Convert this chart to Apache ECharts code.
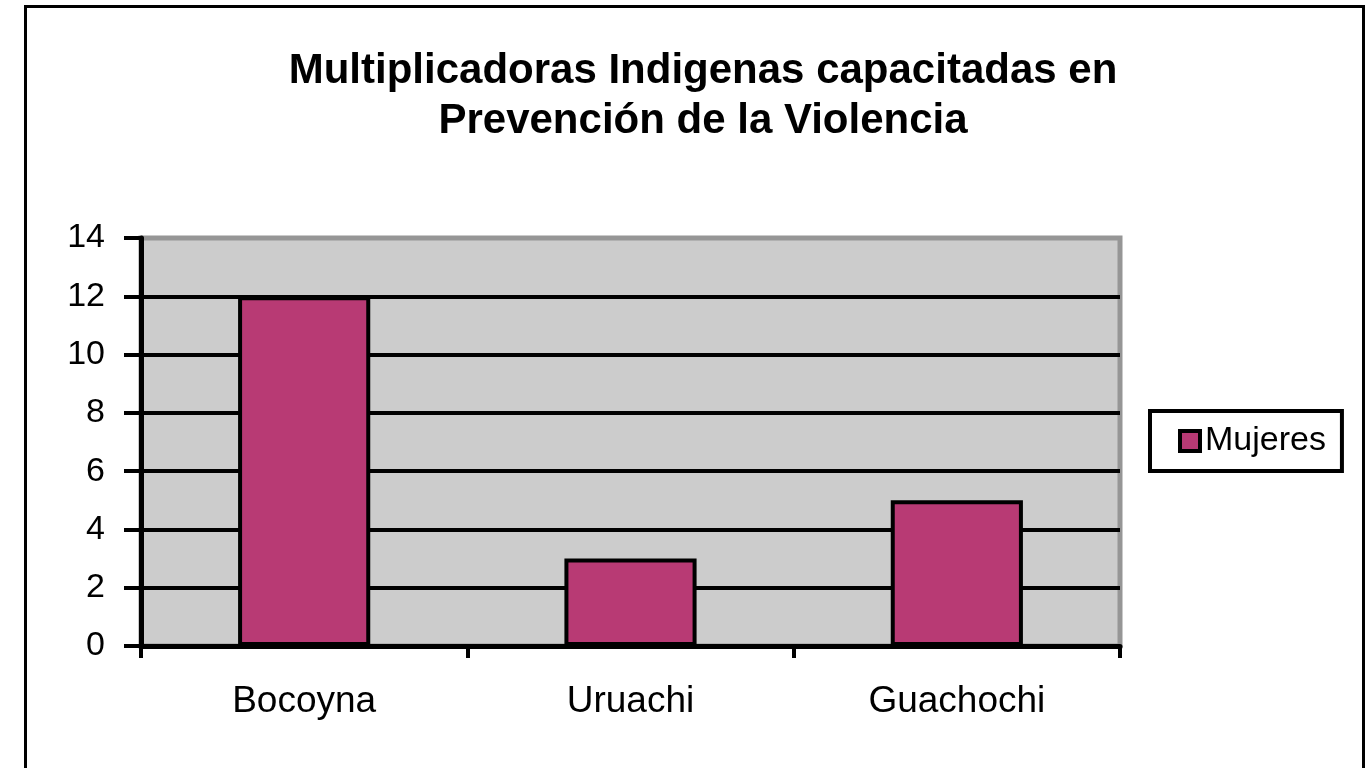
<!DOCTYPE html>
<html><head><meta charset="utf-8">
<script src="https://cdn.jsdelivr.net/npm/echarts@6/dist/echarts.min.js"></script>
<style>html,body{margin:0;padding:0;background:#fff}#c{width:1371px;height:768px}</style>
</head><body><div id="c"></div>
<script>
const categories = ['Bocoyna', 'Uruachi', 'Guachochi'];
const mujeres = [12, 3, 5];
const seriesName = 'Mujeres';
const titleText = 'Multiplicadoras Indigenas capacitadas en\nPrevención de la Violencia';

const chart = echarts.init(document.getElementById('c'));
const F = '"Liberation Sans", Arial, sans-serif';
chart.setOption({
  animation: false,
  backgroundColor: '#fff',
  graphic: [{
    type: 'rect', shape: {x: 25.5, y: 6.5, width: 1338, height: 820},
    style: {fill: 'none', stroke: '#000', lineWidth: 3}, z: 100
  }],
  title: {
    text: titleText, left: 698, top: 41, textAlign: 'center',
    textStyle: {fontFamily: F, fontSize: 42, fontWeight: 'bold', color: '#000', lineHeight: 50}
  },
  legend: {
    data: [seriesName], left: 1150, top: 411, orient: 'vertical',
    padding: [13, 16, 13, 28], borderColor: '#000', borderWidth: 4,
    itemWidth: 20, itemHeight: 20, itemGap: 0,
    icon: 'rect',
    itemStyle: {borderColor: '#000', borderWidth: 4},
    textStyle: {fontFamily: F, fontSize: 34, color: '#000'}
  },
  grid: {
    left: 141, top: 238, right: 251, bottom: 122,
    show: true, backgroundColor: '#cccccc', borderColor: '#969696', borderWidth: 5
  },
  xAxis: {
    type: 'category', data: categories,
    axisLine: {lineStyle: {color: '#000', width: 5}},
    axisTick: {show: true, length: 12, lineStyle: {color: '#000', width: 4}},
    axisLabel: {fontFamily: F, fontSize: 37, color: '#000', margin: 37}
  },
  yAxis: {
    type: 'value', min: 0, max: 14, interval: 2,
    axisLine: {show: true, lineStyle: {color: '#000', width: 5}},
    axisTick: {show: true, length: 17, lineStyle: {color: '#000', width: 4}},
    axisLabel: {fontFamily: F, fontSize: 34, color: '#000', margin: 36},
    splitLine: {lineStyle: {color: ['#000','#000','#000','#000','#000','#000','#000','#969696'], width: 4}}
  },
  series: [{
    name: seriesName, type: 'bar', data: mujeres, barWidth: '40.5%',
    itemStyle: {color: '#b83a74', borderColor: '#000', borderWidth: 4}
  }]
});
</script></body></html>
